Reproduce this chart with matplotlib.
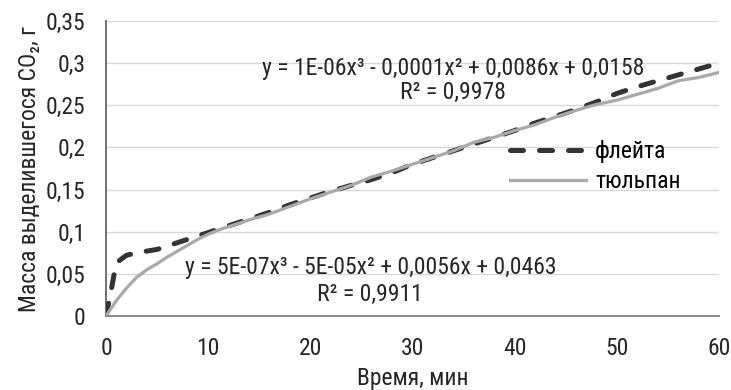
import matplotlib
matplotlib.use("Agg")
import matplotlib.pyplot as plt

# flute (флейта) readings, minutes / grams
x_flute = [0, 0.5, 1, 2, 3, 4, 5, 6, 7, 8, 9, 10, 12, 14, 16, 18, 20, 22, 24,
           26, 28, 30, 32, 34, 36, 38, 40, 42, 44, 46, 48, 50, 52, 54, 56, 58, 60]
y_flute = [0, 0.03, 0.063, 0.072, 0.075, 0.077, 0.079, 0.083, 0.087, 0.091,
           0.095, 0.099, 0.107, 0.115, 0.123, 0.132, 0.140, 0.148, 0.155,
           0.162, 0.170, 0.180, 0.188, 0.196, 0.204, 0.212, 0.220, 0.229,
           0.237, 0.245, 0.254, 0.264, 0.272, 0.279, 0.286, 0.293, 0.300]

# tulip (тюльпан) readings
x_tulip = [0, 1, 2, 3, 4, 5, 6, 7, 8, 9, 10, 11, 12, 14, 16, 18, 20, 22, 24,
           26, 28, 30, 32, 34, 36, 38, 40, 42, 44, 46, 48, 50, 52, 54, 56, 58, 60]
y_tulip = [0, 0.018, 0.033, 0.046, 0.055, 0.062, 0.070, 0.077, 0.084, 0.091,
           0.097, 0.102, 0.106, 0.114, 0.121, 0.130, 0.139, 0.147, 0.155,
           0.165, 0.172, 0.180, 0.188, 0.196, 0.206, 0.212, 0.220, 0.227,
           0.236, 0.244, 0.251, 0.256, 0.263, 0.270, 0.279, 0.283, 0.289]

x_ticks = [0, 10, 20, 30, 40, 50, 60]
y_ticks = [0, 0.05, 0.1, 0.15, 0.2, 0.25, 0.3, 0.35]
y_ticklabels = ["0", "0,05", "0,1", "0,15", "0,2", "0,25", "0,3", "0,35"]

eq_flute = "y = 1E-06x³ - 0,0001x² + 0,0086x + 0,0158"
r2_flute = "R² = 0,9978"
eq_tulip = "y = 5E-07x³ - 5E-05x² + 0,0056x + 0,0463"
r2_tulip = "R² = 0,9911"

FS = 17
TXT = "#262626"
plt.rcParams["font.family"] = ["Roboto Condensed", "IBM Plex Sans Condensed",
                               "DejaVu Sans"]

fig = plt.figure(figsize=(7.31, 3.90), dpi=100)
ax = fig.add_axes([106 / 731, 1 - 316 / 390, 613 / 731, 295 / 390])

ax.plot(x_flute, y_flute, color="#333333", lw=3.6, ls=(0, (2.6, 3.2)),
        dash_capstyle="round", label="флейта", zorder=3)
ax.plot(x_tulip, y_tulip, color="#a9a9a9", lw=2.3, label="тюльпан", zorder=4)

ax.set_xlim(0, 60)
ax.set_ylim(0, 0.35)
ax.set_xticks(x_ticks)
ax.set_yticks(y_ticks)
ax.set_yticklabels(y_ticklabels)
ax.tick_params(labelsize=FS, length=0, colors=TXT)
ax.tick_params(axis="x", pad=15)
ax.tick_params(axis="y", pad=15)
ax.grid(axis="y", color="#d9d9d9", lw=1)
ax.set_axisbelow(True)
for s in ["top", "right"]:
    ax.spines[s].set_visible(False)
ax.spines["left"].set_color("#666666")
ax.spines["bottom"].set_color("#808080")
for s in ["left", "bottom"]:
    ax.spines[s].set_linewidth(1.3)

ax.set_xlabel("Время, мин", fontsize=FS, color=TXT, labelpad=5)
ax.set_ylabel("Масса выделившегося CO₂, г", fontsize=FS, color=TXT, labelpad=3)

ax.text(34.0, 0.294, eq_flute, fontsize=FS, ha="center", va="center", color=TXT)
ax.text(34.0, 0.265, r2_flute, fontsize=FS, ha="center", va="center", color=TXT)
ax.text(25.9, 0.057, eq_tulip, fontsize=FS, ha="center", va="center", color=TXT)
ax.text(25.8, 0.025, r2_tulip, fontsize=FS, ha="center", va="center", color=TXT)

ax.legend(loc="center left", bbox_to_anchor=(0.659, 0.507), frameon=False,
          fontsize=FS, handlelength=3.2, handletextpad=0.4,
          labelspacing=0.3, borderpad=0, borderaxespad=0)

fig.savefig("out.png", dpi=100)
